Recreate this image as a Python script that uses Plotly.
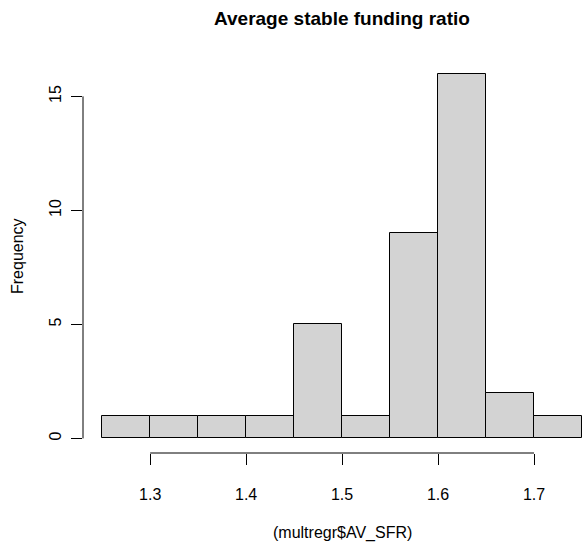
import plotly.graph_objects as go

# Histogram of average stable funding ratio (bin width 0.05)
bin_starts = [1.25, 1.30, 1.35, 1.40, 1.45, 1.50, 1.55, 1.60, 1.65, 1.70]
bin_width = 0.05
counts = [1, 1, 1, 1, 5, 1, 9, 16, 2, 1]

x_ticks = [1.3, 1.4, 1.5, 1.6, 1.7]
y_ticks = [0, 5, 10, 15]

title_text = "Average stable funding ratio"
x_label = "(multregr$AV_SFR)"
y_label = "Frequency"

font_family = "Liberation Sans, Arial, sans-serif"
ink = "#000000"

centers = [s + bin_width / 2 for s in bin_starts]

fig = go.Figure(
    go.Bar(
        x=centers,
        y=counts,
        width=bin_width,
        marker=dict(color="#D3D3D3", line=dict(color=ink, width=1)),
        hoverinfo="x+y",
    )
)

fig.update_layout(
    width=582,
    height=550,
    margin=dict(l=83, r=0, t=59, b=97),
    paper_bgcolor="white",
    plot_bgcolor="white",
    showlegend=False,
    font=dict(family=font_family, size=16, color=ink),
    bargap=0,
)

fig.update_xaxes(
    range=[1.23, 1.75],
    tickvals=x_ticks,
    ticktext=[f"{v:.1f}" for v in x_ticks],
    ticks="outside",
    ticklen=11,
    tickwidth=1,
    tickcolor=ink,
    ticklabelstandoff=16,
    showline=False,
    showgrid=False,
    zeroline=False,
    tickfont=dict(size=16, color=ink),
)
fig.update_yaxes(
    range=[-0.64, 16.64],
    tickvals=y_ticks,
    ticks="outside",
    ticklen=11,
    tickwidth=1,
    tickcolor=ink,
    tickangle=-90,
    ticklabelstandoff=4,
    showline=False,
    showgrid=False,
    zeroline=False,
    tickfont=dict(size=16, color=ink),
)

# Axis lines that run only between the first and last tick
fig.add_shape(type="line", xref="x", yref="paper",
              x0=x_ticks[0], x1=x_ticks[-1], y0=0, y1=0,
              line=dict(color=ink, width=1))
fig.add_shape(type="line", xref="paper", yref="y",
              x0=0, x1=0, y0=y_ticks[0], y1=y_ticks[-1],
              line=dict(color=ink, width=1))

fig.add_annotation(text=f"<b>{title_text}</b>", xref="x", yref="paper",
                   x=1.5, y=1, yanchor="middle", yshift=41, showarrow=False,
                   font=dict(size=19, color=ink))
fig.add_annotation(text=x_label, xref="x", yref="paper",
                   x=1.5, y=0, yanchor="middle", yshift=-80, showarrow=False,
                   font=dict(size=16, color=ink))
fig.add_annotation(text=y_label, xref="paper", yref="paper",
                   x=0, y=0.5, xanchor="center", xshift=-66, textangle=-90,
                   showarrow=False, font=dict(size=16, color=ink))

fig.write_html("out.html")
